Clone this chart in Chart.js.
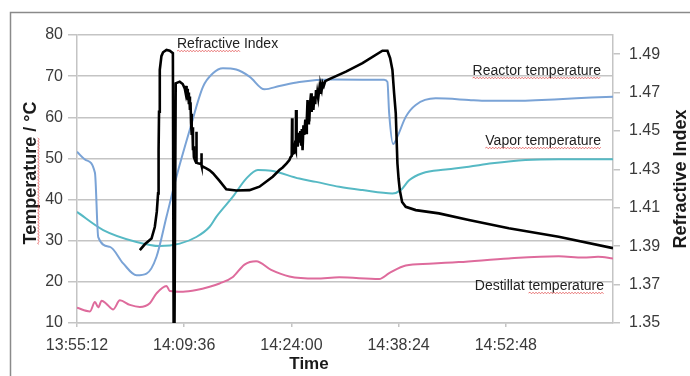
<!DOCTYPE html>
<html>
<head>
<meta charset="utf-8">
<script src="https://cdn.jsdelivr.net/npm/chart.js@4.4.1/dist/chart.umd.min.js"></script>
<style>
  html, body { margin: 0; padding: 0; background: #ffffff; }
  #wrap { width: 690px; height: 376px; }
</style>
</head>
<body>
<div id="wrap"><canvas id="c" width="690" height="376"></canvas></div>
<script>
// ---- axis labels ----
const xTickLabels = ['13:55:12', '14:09:36', '14:24:00', '14:38:24', '14:52:48'];
const xTickMinutes = [0, 14.4, 28.8, 43.2, 57.6];   // minutes after 13:55:12
const tempTicks = [10, 20, 30, 40, 50, 60, 70, 80];
const riTicks = [1.35, 1.37, 1.39, 1.41, 1.43, 1.45, 1.47, 1.49];

// ---- series (time in minutes after 13:55:12) ----
const reactorTime = [0, 1.2, 2.41, 2.85, 4.42, 6.20, 8.00, 9.34, 10.68, 12.02, 13.35, 15.14, 16.92, 18.26, 19.60, 21.39, 23.17, 25.18, 27.19, 29.87, 34.33, 41.26, 41.70, 41.93, 42.46, 43.04, 44.16, 45.50, 48.18, 52.64, 54.38, 58.00, 64.70, 69.12, 72];
const reactorTemp = [51.6, 49.6, 46.5, 30.9, 28.5, 24.5, 21.6, 22.0, 26.1, 35.8, 45.5, 56.9, 67.4, 70.7, 71.9, 71.6, 69.9, 66.8, 67.6, 68.6, 69.2, 69.1, 68.6, 61.0, 53.5, 55.3, 60.1, 63.0, 64.6, 64.2, 64.0, 64.0, 64.4, 64.8, 65.0];

const vaporTime = [0, 3.52, 8.00, 11.12, 13.80, 16.03, 17.82, 18.71, 20.94, 22.73, 24.29, 26.08, 29.87, 32.11, 35.23, 38.35, 42.37, 43.49, 44.61, 46.39, 49.52, 52.64, 55.76, 60.24, 64.70, 72];
const vaporTemp = [37.0, 32.6, 29.7, 28.7, 29.3, 30.9, 33.4, 35.8, 40.7, 45.1, 47.2, 47.0, 45.1, 44.3, 43.1, 42.3, 41.5, 42.3, 44.7, 46.4, 47.3, 48.0, 48.8, 49.6, 49.8, 49.8];

const destTime = [0, 1.74, 2.41, 2.85, 3.31, 3.98, 4.86, 5.76, 7.10, 8.44, 9.78, 10.68, 12.02, 12.46, 14.24, 16.03, 17.82, 19.15, 20.94, 22.50, 24.07, 26.08, 28.53, 32.11, 35.23, 40.59, 41.93, 44.16, 47.28, 51.30, 58.00, 64.70, 68.0, 70.0, 72];
const destTemp = [13.7, 12.8, 15.1, 13.8, 15.4, 14.6, 13.3, 15.5, 14.4, 13.9, 14.8, 17.2, 19.0, 17.8, 17.6, 18.0, 18.8, 19.6, 21.2, 24.2, 25.0, 22.9, 21.3, 20.8, 21.1, 20.7, 22.1, 24.0, 24.4, 24.8, 25.7, 26.2, 25.9, 26.1, 25.7];

const riTime = [
  8.44, 9.11, 10.01, 10.45, 10.72, 10.89, 10.96, 11.02, 11.12, 11.34,
  11.56, 12.02, 12.46, 12.88, 12.98, 13.10, 13.26, 13.80, 14.20, 14.47,
  14.58, 14.65, 14.72, 14.80, 14.88, 14.95, 15.03, 15.10, 15.17, 15.25,
  15.32, 15.38, 15.44, 15.50, 15.58, 15.65, 15.70, 15.88, 16.01, 16.04,
  16.07, 16.25, 16.68, 16.71, 16.75, 16.92, 17.37, 17.82, 18.26, 19.15,
  20.05, 21.39, 23.17, 24.51, 26.29, 27.19, 27.63, 28.13, 28.53, 28.70,
  28.84, 28.89, 28.94, 29.05, 29.13, 29.25, 29.40, 29.42, 29.50, 29.58,
  29.64, 29.75, 29.87, 30.00, 30.10, 30.20, 30.30, 30.42, 30.53, 30.67,
  30.80, 30.87, 30.97, 31.07, 31.15, 31.20, 31.30, 31.44, 31.52, 31.61,
  31.75, 31.88, 32.00, 32.11, 32.20, 32.28, 32.40, 32.55, 32.65, 32.75,
  32.87, 32.99, 33.15, 33.35, 33.89, 36.13, 38.35, 41.03, 41.70, 42.06,
  42.37, 42.59, 42.82, 43.04, 43.20, 43.36, 43.67, 44.16, 45.50, 48.62,
  52.64, 58.00, 64.70, 72
];
const riValue = [
  1.388, 1.391, 1.394, 1.400, 1.408, 1.4175, 1.440, 1.460, 1.4818, 1.4890,
  1.4910, 1.4922, 1.4918, 1.4905, 1.350, 1.350, 1.4748, 1.4757, 1.4745, 1.4722,
  1.4700, 1.4735, 1.4690, 1.4720, 1.4660, 1.4700, 1.4640, 1.4680, 1.4610, 1.4650,
  1.4540, 1.4590, 1.4480, 1.4520, 1.4400, 1.4420, 1.4365, 1.4345, 1.4335, 1.4496,
  1.4335, 1.4332, 1.4328, 1.4384, 1.4320, 1.4314, 1.4305, 1.4295, 1.4280, 1.4240,
  1.4196, 1.4190, 1.4192, 1.4210, 1.4262, 1.4297, 1.4310, 1.4330, 1.4349, 1.4365,
  1.4370, 1.4566, 1.4375, 1.4400, 1.4380, 1.4420, 1.4400, 1.4609, 1.4420, 1.4470,
  1.4418, 1.4490, 1.4440, 1.4500, 1.4430, 1.4510, 1.4400, 1.4530, 1.4480, 1.4560,
  1.4490, 1.4560, 1.4661, 1.4540, 1.4600, 1.4550, 1.4640, 1.4696, 1.4600, 1.4660,
  1.4610, 1.4680, 1.4640, 1.4713, 1.4670, 1.4700, 1.4670, 1.4720, 1.4700, 1.4735,
  1.4715, 1.4750, 1.4735, 1.4760, 1.4770, 1.4809, 1.4853, 1.4918, 1.4918, 1.4880,
  1.4818, 1.4700, 1.4592, 1.4332, 1.4250, 1.4192, 1.4130, 1.4105, 1.4088, 1.4071,
  1.4036, 1.3993, 1.3949, 1.389
];

// ---- texts ----
const leftTitle = 'Temperature / °C';
const rightTitle = 'Refractive Index';
const xTitle = 'Time';
const seriesNames = ['Refractive Index', 'Reactor temperature', 'Vapor temperature', 'Destillat temperature'];

const pts = (xs, ys) => xs.map((x, i) => ({ x: x, y: ys[i] }));
const FONT = '"Liberation Sans", Arial, Helvetica, sans-serif';
const GRID = '#c4c4c4';

function squiggle(ctx, x0, x1, y) {
  ctx.save();
  ctx.strokeStyle = 'rgba(226,86,86,0.8)';
  ctx.lineWidth = 1;
  ctx.beginPath();
  ctx.moveTo(x0, y);
  let up = true;
  for (let x = x0 + 1.5; x <= x1; x += 1.5) {
    ctx.lineTo(x, y + (up ? -0.8 : 0.8));
    up = !up;
  }
  ctx.stroke();
  ctx.restore();
}

const decor = {
  id: 'decor',
  beforeDraw(chart) {
    const ctx = chart.ctx;
    ctx.save();
    ctx.fillStyle = '#ffffff';
    ctx.fillRect(0, 0, chart.width, chart.height);
    ctx.restore();
  },
  afterDraw(chart) {
    const ctx = chart.ctx;
    const area = chart.chartArea;
    ctx.save();
    // outer frame
    ctx.strokeStyle = '#8a8a8a';
    ctx.lineWidth = 1.5;
    ctx.strokeRect(10.5, 12.5, chart.width + 20, chart.height + 20);

    // left axis title (rotated)
    ctx.fillStyle = '#1a1a1a';
    ctx.font = 'bold 18px ' + FONT;
    ctx.textBaseline = 'alphabetic';
    ctx.save();
    ctx.translate(36, 173);
    ctx.rotate(-Math.PI / 2);
    ctx.textAlign = 'center';
    ctx.fillText(leftTitle, 0, 0);
    const fullW = ctx.measureText(leftTitle).width;
    const firstW = ctx.measureText(leftTitle.split(' ')[0]).width;
    squiggle(ctx, -fullW / 2, -fullW / 2 + firstW, 2.5);
    ctx.restore();

    // right axis title (rotated, reading upward)
    ctx.save();
    ctx.translate(686, (area.top + area.bottom) / 2);
    ctx.rotate(-Math.PI / 2);
    ctx.textAlign = 'center';
    ctx.fillText(rightTitle, 0, 0);
    ctx.restore();

    // x axis title
    ctx.font = 'bold 17px ' + FONT;
    ctx.textAlign = 'center';
    ctx.fillText(xTitle, 309, 369);

    // series labels
    ctx.font = '14px ' + FONT;
    ctx.fillStyle = '#222222';
    ctx.textAlign = 'left';
    // Refractive Index
    ctx.fillText(seriesNames[0], 177, 48);
    squiggle(ctx, 177, 177 + ctx.measureText('Refractive').width, 51);
    // Reactor temperature
    let w = ctx.measureText(seriesNames[1]).width;
    ctx.fillText(seriesNames[1], 601 - w, 75);
    squiggle(ctx, 601 - w, 601, 78);
    // Vapor temperature
    w = ctx.measureText(seriesNames[2]).width;
    ctx.fillText(seriesNames[2], 601 - w, 145);
    squiggle(ctx, 601 - w, 601, 148);
    // Destillat temperature
    w = ctx.measureText(seriesNames[3]).width;
    ctx.fillText(seriesNames[3], 604 - w, 290);
    const tw = ctx.measureText('temperature').width;
    squiggle(ctx, 604 - tw, 604, 293);
    ctx.restore();
  }
};

new Chart(document.getElementById('c'), {
  type: 'line',
  data: {
    datasets: [
      { label: 'Refractive Index', data: pts(riTime, riValue), yAxisID: 'y2', borderColor: '#000000', borderWidth: 2.6, pointRadius: 0, tension: 0, order: 0 },
      { label: 'Reactor temperature', data: pts(reactorTime, reactorTemp), yAxisID: 'y', borderColor: '#7aa3d6', borderWidth: 2, pointRadius: 0, cubicInterpolationMode: 'monotone', order: 1 },
      { label: 'Vapor temperature', data: pts(vaporTime, vaporTemp), yAxisID: 'y', borderColor: '#56b9c4', borderWidth: 2, pointRadius: 0, cubicInterpolationMode: 'monotone', order: 2 },
      { label: 'Destillat temperature', data: pts(destTime, destTemp), yAxisID: 'y', borderColor: '#de6b9c', borderWidth: 2, pointRadius: 0, cubicInterpolationMode: 'monotone', order: 3 }
    ]
  },
  options: {
    responsive: false,
    animation: false,
    events: [],
    layout: { padding: { top: 35, left: 0, right: 0, bottom: 0 } },
    plugins: { legend: { display: false }, tooltip: { enabled: false }, title: { display: false } },
    scales: {
      x: {
        type: 'linear',
        min: 0,
        max: 72,
        afterFit: s => { s.height = 53; },
        afterBuildTicks: s => { s.ticks = xTickMinutes.map(v => ({ value: v })); },
        ticks: {
          autoSkip: false, maxRotation: 0, padding: 9,
          color: '#3a3a3a', font: { family: FONT, size: 16 },
          callback: (v, i) => xTickLabels[i]
        },
        grid: { drawOnChartArea: false, tickLength: 4, color: GRID, lineWidth: 1.5 },
        border: { display: true, color: GRID, width: 1.5 }
      },
      y: {
        position: 'left',
        min: 10,
        max: 80,
        afterFit: s => { s.width = 77; },
        afterBuildTicks: s => { s.ticks = tempTicks.map(v => ({ value: v })); },
        ticks: { padding: 5, color: '#3a3a3a', font: { family: FONT, size: 16 } },
        grid: { drawOnChartArea: true, tickLength: 9, color: GRID, lineWidth: 1.5 },
        border: { display: true, color: GRID, width: 1.5 }
      },
      y2: {
        position: 'right',
        min: 1.35,
        max: 1.50,
        afterFit: s => { s.width = 77; },
        afterBuildTicks: s => { s.ticks = riTicks.map(v => ({ value: v })); },
        ticks: { padding: 9, color: '#3a3a3a', font: { family: FONT, size: 16 }, callback: v => Number(v).toFixed(2) },
        grid: { drawOnChartArea: false, tickLength: 7, color: GRID, lineWidth: 1.5 },
        border: { display: true, color: GRID, width: 1.5 }
      }
    }
  },
  plugins: [decor]
});
</script>
</body>
</html>
